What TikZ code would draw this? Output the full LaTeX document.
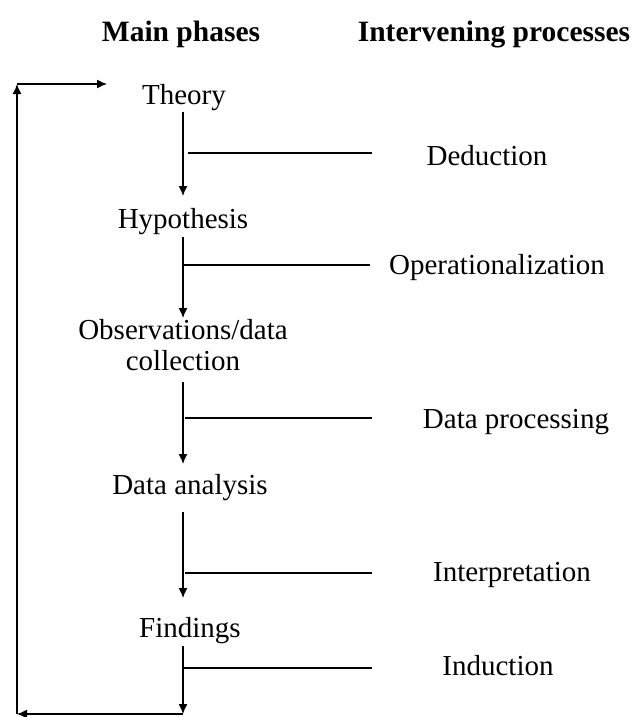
\documentclass[tikz,border=0pt]{standalone}
\usepackage{fontspec}
\setmainfont{Liberation Serif}
\usetikzlibrary{arrows.meta}
\begin{document}
\begin{tikzpicture}[x=1pt,y=-1pt,
  lbl/.style={anchor=base,inner sep=0pt,font=\fontsize{29}{31}\selectfont},
  hdr/.style={anchor=base,inner sep=0pt,font=\fontsize{29.5}{31}\selectfont\bfseries},
  line/.style={line width=1.3pt},
  tip/.style={-{Latex[length=10pt,width=9pt]}},
  flow/.style={line,tip}]
\useasboundingbox (0,0) rectangle (640,717);
% headers
\node[hdr] (h1) at (181,42) {Main phases};
\node[hdr] (h2) at (494,42) {Intervening processes};
% main phases
\node[lbl] (theory) at (184,104) {Theory};
\node[lbl] (hyp) at (183,228) {Hypothesis};
\node[lbl,align=center] (obs) at (183,370) {Observations/data\\[0pt]collection};
\node[lbl] (ana) at (190,494) {Data analysis};
\node[lbl] (find) at (190,637) {Findings};
% intervening processes
\node[lbl] (ded) at (487,165) {Deduction};
\node[lbl] (ope) at (497,274) {Operationalization};
\node[lbl] (dp) at (516,428) {Data processing};
\node[lbl] (int) at (512,581) {Interpretation};
\node[lbl] (ind) at (498,675) {Induction};
% coordinates on the main flow
\coordinate (t0) at (183,112);
\coordinate (t1) at (183,196);
\coordinate (h0) at (183,237);
\coordinate (h1a) at (183,318);
\coordinate (o0) at (183,382);
\coordinate (o1) at (183,464);
\coordinate (a0) at (183,512);
\coordinate (a1) at (183,598);
\coordinate (f0) at (183,646);
\coordinate (c1) at (183,714);
\coordinate (c2) at (17,714);
\coordinate (c3) at (17,84);
\coordinate (c4) at (107,84);
% main arrows
\draw[flow] (t0) -- (t1);
\draw[flow] (h0) -- (h1a);
\draw[flow] (o0) -- (o1);
\draw[flow] (a0) -- (a1);
\draw[flow] (f0) -- (c1);
\draw[flow] (c1) -- (c2);
\draw[flow] (c2) -- (c3);
\draw[flow] (c3) -- (c4);
% side connectors
\coordinate (s1) at (188,153); \coordinate (e1) at (372,153);
\coordinate (s2) at (183,265); \coordinate (e2) at (370,265);
\coordinate (s3) at (185,418); \coordinate (e3) at (372,418);
\coordinate (s4) at (185,573); \coordinate (e4) at (372,573);
\coordinate (s5) at (183,668); \coordinate (e5) at (372,668);
\draw[line] (s1) -- (e1);
\draw[line] (s2) -- (e2);
\draw[line] (s3) -- (e3);
\draw[line] (s4) -- (e4);
\draw[line] (s5) -- (e5);
\end{tikzpicture}
\end{document}
